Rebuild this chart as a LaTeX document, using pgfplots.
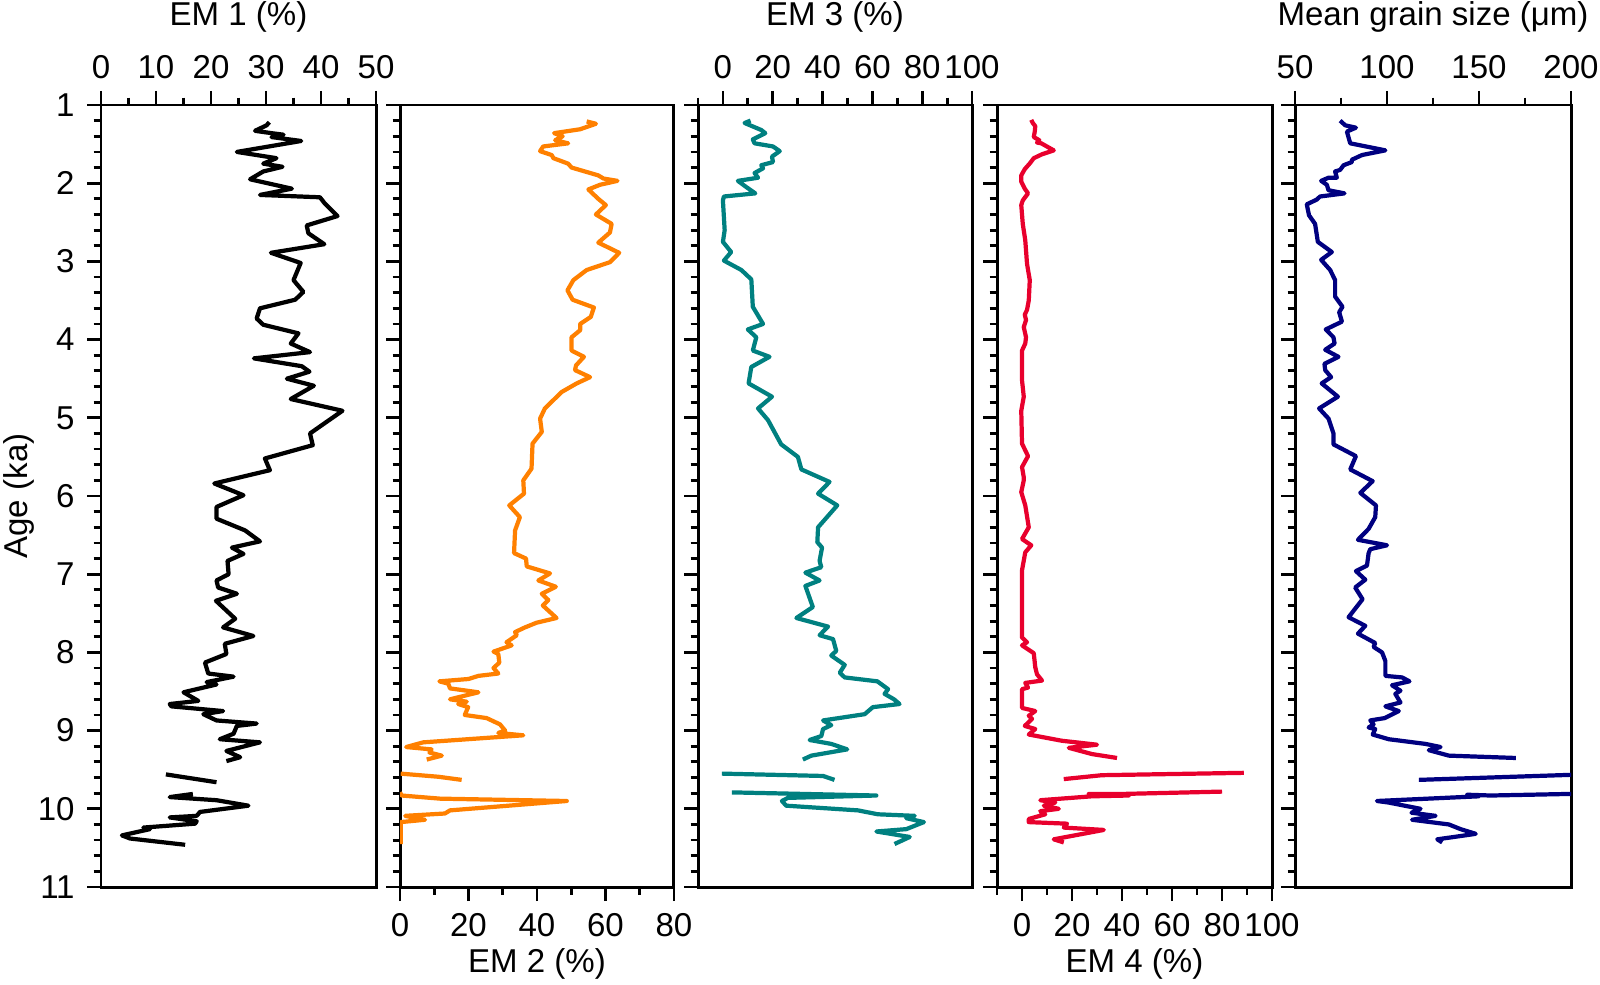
\documentclass[border=0pt]{standalone}
\usepackage{fontspec}
\setmainfont{Liberation Sans}
\usepackage{pgfplots}
\pgfplotsset{compat=1.18}
\definecolor{emtwo}{RGB}{255,128,0}
\definecolor{emthree}{RGB}{0,128,128}
\definecolor{emfour}{RGB}{232,0,45}
\definecolor{emfive}{RGB}{0,0,128}
\newcommand\fs{\fontsize{9.4}{11}\selectfont}
\pgfplotsset{
  panel/.style={
    scale only axis, height=78.2mm,
    y dir=reverse, ymin=1, ymax=11,
    ytick={1,2,...,11}, minor y tick num=4,
    tick align=outside, ytick pos=left,
    axis line style={line width=0.85pt},
    tick style={line width=0.8pt, black},
    major tick length=1.4mm, minor tick length=0.75mm,
    tick label style={font=\fs},
    label style={font=\fs},
    /pgf/number format/assume math mode=true,
    every axis plot/.append style={line width=1.2pt, line join=round, no markers},
  },
  toplab/.style={xtick pos=right, xticklabel pos=right,
    xlabel style={at={(axis description cs:0.5,1)}, anchor=center, yshift=8.8mm}},
  botlab/.style={xtick pos=left, xticklabel pos=left,
    xlabel style={at={(axis description cs:0.5,0)}, anchor=center, yshift=-7.7mm}},
}
\begin{document}
\begin{tikzpicture}
\path[use as bounding box] (0,0) rectangle (160mm,-98.5mm);
% ---------- EM 1 ----------
\begin{axis}[panel, toplab, at={(10.1mm,-10.5mm)}, anchor=north west, width=27.5mm,
  xmin=0, xmax=50, xtick={0,10,...,50}, minor xtick={5,15,25,35,45},
  xlabel={EM 1 (\%)}, ylabel={Age (ka)},
  ylabel style={at={(axis description cs:-0.298,0.5)}, anchor=center}]
\addplot[black] coordinates {(30.6,1.22)(30.1,1.26)(28.0,1.33)(31.0,1.36)(33.2,1.38)(31.0,1.41)(36.4,1.46)(24.7,1.60)(31.9,1.68)(29.5,1.75)(33.0,1.79)(29.5,1.85)(27.1,1.95)(34.7,2.07)(28.9,2.15)(39.8,2.18)(40.7,2.26)(43.0,2.42)(37.4,2.54)(37.7,2.64)(40.6,2.78)(30.9,2.89)(36.3,3.02)(35.0,3.24)(36.8,3.39)(35.3,3.49)(28.9,3.60)(28.3,3.73)(29.5,3.81)(35.9,3.92)(34.5,4.05)(38.0,4.16)(27.8,4.24)(36.5,4.34)(37.9,4.41)(33.8,4.50)(38.7,4.59)(34.5,4.76)(43.9,4.91)(38.0,5.20)(38.5,5.35)(29.8,5.52)(30.7,5.67)(20.6,5.84)(25.9,5.99)(21.0,6.14)(21.0,6.29)(26.2,6.44)(28.9,6.58)(23.8,6.66)(25.9,6.74)(23.0,6.83)(23.2,7.00)(21.0,7.08)(21.3,7.17)(24.7,7.25)(20.9,7.34)(24.4,7.57)(22.2,7.68)(27.7,7.79)(22.5,7.89)(22.8,8.02)(18.9,8.13)(19.5,8.27)(24.1,8.31)(19.2,8.38)(21.0,8.41)(15.0,8.51)(17.7,8.62)(12.5,8.66)(12.8,8.69)(22.2,8.75)(18.6,8.79)(21.0,8.87)(28.3,8.91)(24.7,8.94)(24.1,9.04)(21.6,9.11)(28.9,9.15)(22.8,9.26)(25.3,9.34)(22.8,9.39)};
\addplot[black] coordinates {(11.8,9.56)(21.0,9.66)};
\addplot[black] coordinates {(16.7,9.81)(12.5,9.85)(21.0,9.89)(26.8,9.96)(18.0,10.04)(17.4,10.09)(12.5,10.11)(17.4,10.16)(17.1,10.19)(7.7,10.24)(8.9,10.26)(3.8,10.34)(5.3,10.38)(15.3,10.46)};
\end{axis}
% ---------- EM 2 ----------
\begin{axis}[panel, botlab, at={(40.0mm,-10.5mm)}, anchor=north west, width=27.4mm,
  xmin=0, xmax=80, xtick={0,20,...,80}, minor xtick={10,30,50,70},
  yticklabels={}, xlabel={EM 2 (\%)}]
\addplot[emtwo] coordinates {(54.5,1.21)(57.2,1.24)(52.6,1.31)(45.0,1.36)(47.5,1.40)(45.3,1.45)(49.1,1.49)(41.8,1.53)(40.9,1.59)(44.3,1.64)(44.8,1.68)(49.1,1.75)(50.1,1.80)(57.9,1.90)(59.4,1.94)(63.5,1.97)(58.4,2.02)(55.0,2.08)(57.9,2.20)(60.1,2.28)(57.2,2.40)(61.8,2.52)(61.3,2.63)(57.9,2.76)(64.0,2.89)(61.3,3.01)(54.5,3.11)(50.6,3.24)(48.9,3.37)(50.4,3.49)(56.6,3.59)(55.7,3.71)(52.6,3.80)(52.6,3.88)(50.1,3.97)(50.1,4.14)(53.7,4.22)(51.4,4.33)(51.1,4.39)(55.5,4.48)(51.6,4.56)(47.2,4.67)(42.3,4.88)(40.9,5.01)(41.4,5.18)(38.7,5.33)(38.4,5.65)(36.0,5.80)(36.2,5.97)(31.9,6.12)(35.0,6.27)(33.6,6.44)(33.3,6.73)(36.8,6.80)(37.0,6.90)(43.8,6.99)(40.4,7.08)(45.5,7.16)(41.4,7.25)(43.3,7.33)(41.7,7.40)(45.7,7.56)(39.9,7.62)(36.5,7.68)(33.6,7.74)(34.1,7.78)(31.1,7.87)(32.6,7.91)(27.3,7.99)(28.7,8.02)(29.0,8.13)(27.3,8.20)(28.7,8.27)(22.9,8.30)(20.0,8.34)(11.5,8.37)(14.1,8.40)(14.6,8.46)(22.9,8.51)(14.6,8.60)(19.5,8.63)(17.0,8.66)(19.9,8.70)(18.9,8.80)(25.3,8.84)(29.2,8.92)(30.7,9.00)(28.7,9.03)(36.0,9.06)(6.8,9.15)(1.8,9.21)(9.2,9.24)(8.6,9.28)(12.2,9.32)(7.8,9.37)};
\addplot[emtwo] coordinates {(0.2,9.55)(11.2,9.59)(18.0,9.63)};
\addplot[emtwo] coordinates {(0,9.79)(0.5,9.83)(11.7,9.87)(48.7,9.90)(14.6,10.02)(13.1,10.06)(1.5,10.09)(7.3,10.14)(0.2,10.17)(0.2,10.45)};
\end{axis}
% ---------- EM 3 ----------
\begin{axis}[panel, toplab, at={(69.8mm,-10.5mm)}, anchor=north west, width=27.4mm,
  xmin=-10, xmax=100, xtick={0,20,...,100}, minor xtick={-10,10,30,50,70,90},
  yticklabels={}, xlabel={EM 3 (\%)}]
\addplot[emthree] coordinates {(11.1,1.20)(8.7,1.23)(15.4,1.32)(17.0,1.36)(12.0,1.44)(12.7,1.49)(20.1,1.53)(22.8,1.59)(19.7,1.66)(20.1,1.73)(15.4,1.77)(16.1,1.81)(12.7,1.87)(14.1,1.93)(6.0,1.97)(9.4,2.05)(13.0,2.13)(0.4,2.17)(0,2.22)(0.7,2.60)(0,2.75)(3.3,2.88)(0.4,2.99)(7.4,3.11)(11.4,3.23)(12.0,3.58)(16.1,3.80)(10.0,3.87)(13.4,3.97)(12.0,4.14)(18.7,4.22)(11.4,4.35)(10.3,4.56)(19.7,4.73)(14.1,4.88)(18.1,5.03)(23.4,5.34)(30.1,5.50)(31.5,5.66)(42.8,5.82)(38.2,5.97)(45.9,6.12)(38.2,6.40)(37.9,6.59)(39.8,6.66)(38.8,6.83)(39.5,6.91)(33.1,6.98)(38.8,7.08)(33.1,7.15)(36.1,7.42)(29.5,7.56)(42.2,7.67)(38.8,7.78)(44.2,7.83)(45.5,7.98)(43.5,8.04)(48.9,8.16)(46.9,8.26)(48.9,8.32)(62.0,8.37)(66.3,8.47)(64.9,8.53)(68.7,8.60)(70.9,8.66)(60.2,8.70)(56.9,8.79)(40.2,8.87)(43.5,8.93)(40.2,8.98)(39.5,9.07)(34.8,9.12)(43.5,9.17)(49.9,9.24)(35.5,9.32)(32.1,9.37)};
\addplot[emthree] coordinates {(-0.4,9.55)(40.2,9.58)(44.8,9.63)};
\addplot[emthree] coordinates {(3.6,9.79)(61.6,9.83)(26.1,9.86)(23.7,9.90)(25.4,9.96)(54.2,10.02)(62.2,10.07)(77.0,10.09)(73.6,10.12)(80.7,10.17)(73.6,10.26)(61.6,10.29)(75.0,10.36)(68.9,10.45)};
\end{axis}
% ---------- EM 4 ----------
\begin{axis}[panel, botlab, at={(99.7mm,-10.5mm)}, anchor=north west, width=27.5mm,
  xmin=-10, xmax=100, xtick={0,20,...,100}, minor xtick={-10,10,30,50,70,90},
  yticklabels={}, xlabel={EM 4 (\%)}]
\addplot[emfour] coordinates {(3.7,1.19)(4.3,1.23)(5.3,1.27)(5.1,1.34)(4.7,1.41)(6.9,1.45)(6.0,1.48)(7.7,1.49)(12.7,1.58)(8.0,1.63)(4.7,1.68)(3.3,1.74)(1.1,1.82)(-0.3,1.90)(-0.3,1.98)(1.1,2.07)(2.4,2.13)(0.3,2.22)(-0.3,2.28)(0.3,2.52)(1.3,2.73)(2.0,3.03)(3.1,3.24)(2.7,3.50)(2.0,3.62)(1.1,3.68)(1.6,3.75)(0.7,3.84)(1.6,3.97)(1.3,4.05)(0,4.14)(0,4.52)(0.7,4.73)(-0.3,4.91)(0,5.33)(2.4,5.49)(0,5.63)(0.7,5.76)(0.7,5.80)(-0.3,5.95)(1.3,6.12)(2.7,6.40)(0,6.55)(3.7,6.63)(1.3,6.72)(0,6.95)(0,7.81)(2.0,7.87)(0,7.91)(4.7,8.01)(5.3,8.19)(6.0,8.28)(8.0,8.36)(1.3,8.39)(2.4,8.45)(0,8.47)(0,8.71)(5.3,8.75)(2.7,8.81)(4.0,8.85)(1.1,8.94)(5.3,8.98)(2.7,9.05)(16.0,9.13)(30.0,9.18)(18.7,9.22)(28.0,9.30)(38.0,9.35)};
\addplot[emfour] coordinates {(88.7,9.54)(32.0,9.57)(16.7,9.62)};
\addplot[emfour] coordinates {(80.0,9.78)(40.0,9.81)(26.7,9.81)(42.7,9.83)(28.0,9.84)(7.3,9.89)(13.3,9.92)(8.7,9.96)(14.7,10.00)(7.3,10.03)(9.3,10.07)(2.7,10.13)(2.7,10.17)(18.0,10.19)(16.7,10.24)(32.7,10.27)(12.7,10.39)(16.7,10.43)};
\end{axis}
% ---------- Mean grain size ----------
\begin{axis}[panel, toplab, at={(129.5mm,-10.5mm)}, anchor=north west, width=27.6mm,
  xmin=50, xmax=200, xtick={50,100,150,200}, minor xtick={75,125,175},
  yticklabels={}, xlabel={Mean grain size (μm)}]
\addplot[emfive] coordinates {(74.5,1.20)(77.3,1.26)(83.1,1.29)(78.2,1.34)(80.0,1.49)(99.1,1.58)(86.4,1.64)(80.9,1.70)(80.9,1.73)(76.4,1.77)(74.5,1.83)(71.8,1.85)(72.7,1.93)(68.2,1.93)(64.2,1.97)(67.3,2.02)(68.2,2.09)(76.9,2.13)(63.6,2.17)(61.8,2.21)(56.4,2.27)(57.6,2.41)(60.9,2.52)(62.4,2.75)(70.0,2.88)(64.2,2.98)(69.1,3.11)(71.8,3.24)(71.8,3.45)(75.8,3.58)(74.0,3.65)(75.5,3.77)(66.7,3.87)(70.9,3.97)(71.5,4.05)(66.4,4.13)(73.6,4.22)(66.0,4.31)(66.4,4.39)(69.6,4.48)(64.5,4.56)(73.3,4.73)(63.1,4.88)(68.2,5.01)(70.9,5.20)(70.9,5.34)(83.1,5.49)(80.0,5.66)(92.2,5.81)(85.5,5.96)(94.0,6.12)(93.6,6.27)(90.0,6.42)(84.2,6.56)(100,6.63)(90.9,6.68)(90.0,6.73)(89.1,6.89)(83.1,6.96)(88.2,7.07)(82.7,7.17)(86.7,7.32)(79.1,7.55)(88.2,7.66)(84.2,7.76)(93.6,7.88)(92.7,7.93)(97.3,8.00)(99.1,8.11)(99.1,8.30)(108.2,8.32)(112.2,8.37)(102.7,8.42)(107.3,8.49)(104.5,8.53)(107.3,8.64)(99.1,8.69)(106.4,8.75)(98.7,8.84)(90.9,8.87)(92.7,8.92)(90.0,8.96)(93.6,8.98)(92.2,9.05)(100.9,9.11)(120.9,9.17)(129.1,9.21)(122.7,9.25)(133.6,9.32)(170.0,9.35)};
\addplot[emfive] coordinates {(220,9.55)(117.3,9.63)};
\addplot[emfive] coordinates {(220,9.80)(156.4,9.83)(143.6,9.82)(150,9.84)(94.5,9.90)(100.9,9.92)(118.2,10.00)(113.3,10.05)(126.4,10.09)(113.6,10.14)(133.6,10.20)(140,10.26)(148.2,10.32)(136.4,10.36)(127.3,10.39)(130,10.43)};
\end{axis}
\end{tikzpicture}
\end{document}
